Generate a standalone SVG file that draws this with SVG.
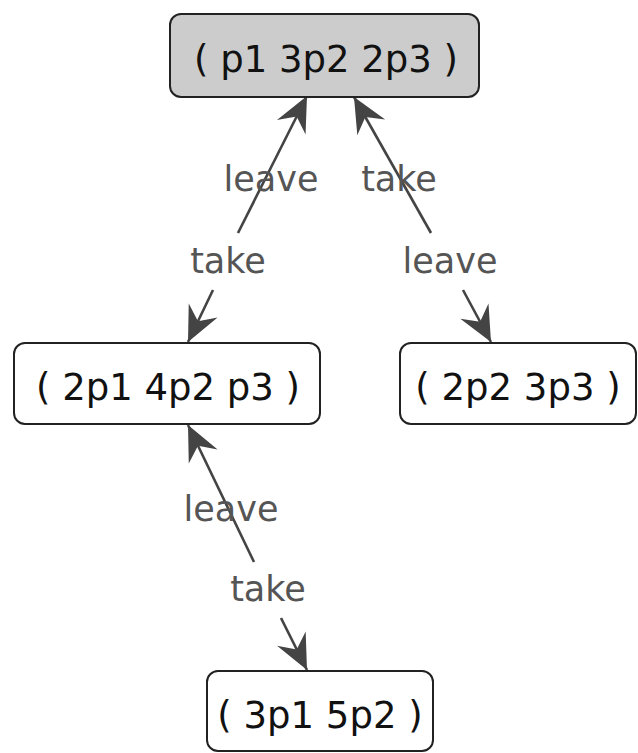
<svg xmlns="http://www.w3.org/2000/svg" width="638" height="753" viewBox="0 0 638 753">
<defs>
<style>
.node rect{fill:#ffffff;stroke:#222222;stroke-width:2}
.node.start rect{fill:#cccccc}
.node text{font-family:"DejaVu Sans",Verdana,sans-serif;font-size:37px;fill:#111111;text-anchor:middle}
.edge line{stroke:#444444;stroke-width:2.6;fill:none}
.lbl{font-family:"DejaVu Sans",Verdana,sans-serif;font-size:35px;fill:#555555;text-anchor:middle}
</style>
<marker id="ah" viewBox="-36 -18 38 36" refX="0" refY="0" markerWidth="38" markerHeight="36" orient="auto" markerUnits="userSpaceOnUse">
<path d="M0,0 L-35,-16 L-23,0 L-35,16 Z" fill="#444444"/>
</marker>
</defs>
<rect width="638" height="753" fill="#ffffff"/>
<g id="edges" class="edge">
<!-- top -> left -->
<line x1="238" y1="233" x2="307" y2="96" marker-end="url(#ah)"/>
<line x1="213" y1="290" x2="188" y2="342" marker-end="url(#ah)"/>
<!-- top -> right -->
<line x1="431" y1="233" x2="354" y2="97" marker-end="url(#ah)"/>
<line x1="463" y1="290" x2="491" y2="342" marker-end="url(#ah)"/>
<!-- left -> bottom -->
<line x1="254" y1="562" x2="188" y2="425" marker-end="url(#ah)"/>
<line x1="281" y1="618" x2="307" y2="670" marker-end="url(#ah)"/>
</g>
<g id="labels">
<text class="lbl" x="271" y="191">leave</text>
<text class="lbl" x="228" y="273">take</text>
<text class="lbl" x="399" y="191">take</text>
<text class="lbl" x="450" y="273">leave</text>
<text class="lbl" x="231" y="521">leave</text>
<text class="lbl" x="268" y="601">take</text>
</g>
<g id="n_top" class="node start">
<rect x="170" y="14" width="309" height="83" rx="11"/>
<text x="326" y="72">( p1 3p2 2p3 )</text>
</g>
<g id="n_left" class="node">
<rect x="14" y="343" width="306" height="81" rx="11"/>
<text x="168" y="400">( 2p1 4p2 p3 )</text>
</g>
<g id="n_right" class="node">
<rect x="400" y="343" width="236" height="81" rx="11"/>
<text x="518" y="400">( 2p2 3p3 )</text>
</g>
<g id="n_bottom" class="node">
<rect x="207" y="671" width="226" height="80" rx="11"/>
<text x="320" y="728">( 3p1 5p2 )</text>
</g>
</svg>
